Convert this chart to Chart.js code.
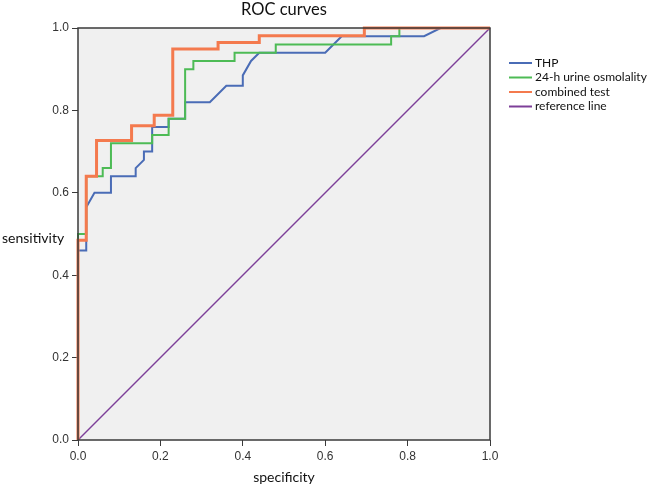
<!DOCTYPE html>
<html>
<head>
<meta charset="utf-8">
<script src="https://cdn.jsdelivr.net/npm/chart.js@4"></script>
<style>
  html, body { margin: 0; padding: 0; background: #fff; }
  #wrap { width: 650px; height: 487px; }
</style>
</head>
<body>
<div id="wrap"><canvas id="roc" width="650" height="487"></canvas></div>
<script>
// ROC curves

const seriesNames = ['THP', '24-h urine osmolality', 'combined test', 'reference line'];
const seriesColors = ['#4a6cb6', '#4dbb55', '#f47a4e', '#7d3f98'];
const tickLabels = ['0.0', '0.2', '0.4', '0.6', '0.8', '1.0'];

// THP
const thpX = [0, 0, 0.02, 0.02, 0.04, 0.08, 0.08, 0.14, 0.14, 0.16, 0.16, 0.18, 0.18, 0.22, 0.22, 0.26, 0.26, 0.32, 0.36, 0.40, 0.40, 0.42, 0.44, 0.60, 0.64, 0.84, 0.88, 1.0];
const thpY = [0, 0.46, 0.46, 0.565, 0.60, 0.60, 0.64, 0.64, 0.66, 0.68, 0.70, 0.70, 0.76, 0.76, 0.78, 0.78, 0.82, 0.82, 0.86, 0.86, 0.885, 0.92, 0.94, 0.94, 0.98, 0.98, 1.0, 1.0];

// 24-h urine osmolality
const osmX = [0, 0, 0.02, 0.02, 0.06, 0.06, 0.08, 0.08, 0.18, 0.18, 0.22, 0.22, 0.26, 0.26, 0.28, 0.28, 0.38, 0.38, 0.48, 0.48, 0.76, 0.76, 0.78, 0.78, 1.0];
const osmY = [0, 0.50, 0.50, 0.64, 0.64, 0.66, 0.66, 0.72, 0.72, 0.74, 0.74, 0.78, 0.78, 0.90, 0.90, 0.92, 0.92, 0.94, 0.94, 0.96, 0.96, 0.98, 0.98, 1.0, 1.0];

// combined test
const combX = [0, 0, 0.02, 0.02, 0.045, 0.045, 0.13, 0.13, 0.185, 0.185, 0.23, 0.23, 0.34, 0.34, 0.44, 0.44, 0.695, 0.695, 1.0];
const combY = [0, 0.485, 0.485, 0.64, 0.64, 0.727, 0.727, 0.763, 0.763, 0.788, 0.788, 0.949, 0.949, 0.965, 0.965, 0.981, 0.981, 1.0, 1.0];

// reference line
const refX = [0, 1];
const refY = [0, 1];

function toPoints(xs, ys) {
  return xs.map((x, i) => ({ x: x, y: ys[i] }));
}

const plotBg = {
  id: 'plotBg',
  beforeDatasetsDraw(chart) {
    const { ctx, chartArea: a } = chart;
    ctx.save();
    ctx.fillStyle = '#f0f0f0';
    ctx.fillRect(a.left, a.top, a.right - a.left, a.bottom - a.top);
    ctx.restore();
  },
  afterDatasetsDraw(chart) {
    const { ctx, chartArea: a } = chart;
    ctx.save();
    ctx.strokeStyle = '#3a3a3a';
    ctx.lineWidth = 1.5;
    ctx.strokeRect(a.left, a.top, a.right - a.left, a.bottom - a.top);
    ctx.restore();
  }
};

// title, axis titles and legend drawn as text on the canvas
const labels = {
  id: 'labels',
  afterDraw(chart) {
    const { ctx, chartArea: a } = chart;
    ctx.save();
    ctx.fillStyle = '#111';
    ctx.textBaseline = 'middle';
    ctx.textAlign = 'center';
    ctx.font = '16.5px Lato';
    ctx.fillText('ROC curves', (a.left + a.right) / 2, 10);

    ctx.font = '14px Lato';
    ctx.fillText('specificity', (a.left + a.right) / 2, 477);
    ctx.textAlign = 'left';
    ctx.fillText('sensitivity', 2, 238);

    ctx.font = '12px Lato';
    seriesNames.forEach((name, i) => {
      const y = 63 + i * 14.5;
      ctx.strokeStyle = seriesColors[i];
      ctx.lineWidth = 2;
      ctx.beginPath();
      ctx.moveTo(509, y);
      ctx.lineTo(532, y);
      ctx.stroke();
      ctx.fillStyle = '#111';
      ctx.fillText(name, 535, y);
    });
    ctx.restore();
  }
};

const ctx = document.getElementById('roc').getContext('2d');
const rocChart = new Chart(ctx, {
  type: 'scatter',
  data: {
    datasets: [
      { label: seriesNames[2], data: toPoints(combX, combY), borderColor: seriesColors[2], borderWidth: 3, order: 0 },
      { label: seriesNames[1], data: toPoints(osmX, osmY), borderColor: seriesColors[1], borderWidth: 2, order: 1 },
      { label: seriesNames[0], data: toPoints(thpX, thpY), borderColor: seriesColors[0], borderWidth: 2, order: 2 },
      { label: seriesNames[3], data: toPoints(refX, refY), borderColor: seriesColors[3], borderWidth: 1.5, order: 3 }
    ].map(d => Object.assign(d, { showLine: true, pointRadius: 0, tension: 0, clip: 4, fill: false }))
  },
  options: {
    responsive: false,
    animation: false,
    layout: { padding: { left: 0, top: 28, right: 160, bottom: 0 } },
    plugins: {
      legend: { display: false },
      title: { display: false },
      tooltip: { enabled: false }
    },
    scales: {
      x: {
        type: 'linear',
        min: 0,
        max: 1,
        afterFit: (scale) => { scale.height = 47; },
        grid: { drawOnChartArea: false, drawTicks: true, tickLength: 6, color: '#3a3a3a' },
        border: { display: false },
        ticks: {
          stepSize: 0.2,
          padding: 3,
          color: '#333',
          font: { family: 'Liberation Sans', size: 12 },
          callback: (v, i) => tickLabels[i]
        }
      },
      y: {
        type: 'linear',
        min: 0,
        max: 1,
        afterFit: (scale) => { scale.width = 78; },
        grid: { drawOnChartArea: false, drawTicks: true, tickLength: 6, color: '#3a3a3a' },
        border: { display: false },
        ticks: {
          stepSize: 0.2,
          padding: 3,
          color: '#333',
          font: { family: 'Liberation Sans', size: 12 },
          callback: (v, i) => tickLabels[i]
        }
      }
    }
  },
  plugins: [plotBg, labels]
});
</script>
</body>
</html>
